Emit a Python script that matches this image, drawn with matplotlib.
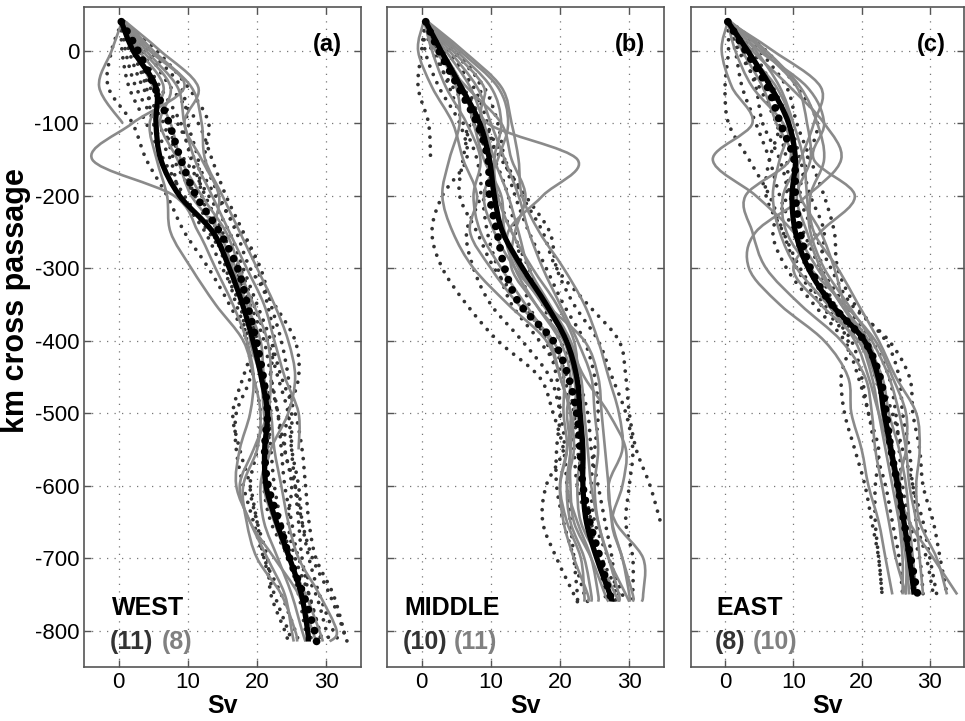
import matplotlib
matplotlib.use("Agg")
import matplotlib.pyplot as plt
from matplotlib.path import Path
from matplotlib.patches import PathPatch
import numpy as np

plt.rcParams['font.family'] = ['Liberation Sans', 'DejaVu Sans']
plt.rcParams['axes.unicode_minus'] = False

nan = np.nan

# ---------------- WEST (a) ----------------
Y_WEST = [40, 0, -50, -100, -150, -200, -250, -300, -350, -400, -450, -500,
          -550, -600, -650, -700, -750, -800, -815]
MEAN_SOLID_WEST = [0.4, 2.1, 5.4, 5.4, 6.1, 8.8, 13.6, 16.0, 17.9, 19.4, 20.6, 21.5,
                   21.1, 21.3, 22.8, 24.7, 26.4, 27.3, 27.4]
MEAN_DOT_WEST = [0.4, 2.8, 5.2, 7.3, 9.0, 11.2, 14.6, 17.2, 18.6, 19.9, 20.9, 21.5,
                 21.1, 21.6, 23.2, 24.7, 26.7, 28.3, 28.6]
GRAY_WEST = [
    [0.8, 4.5, 9.5, 2.0, -3.8, 8.0, 11.5, 14.0, 16.5, 18.5, 19.5, 19.0, 17.5, 17.0, 19.0, 21.5, 24.0, 25.0, 25.3],
    [0.5, -1.0, -2.8, 0.6, nan, nan, nan, nan, nan, nan, nan, nan, nan, nan, nan, nan, nan, nan, nan],
    [1.0, 5.0, 10.5, 12.0, 12.5, 15.0, 17.5, 20.0, 22.5, 24.5, 25.5, 24.5, 22.0, 21.0, 22.5, 24.5, 27.0, 29.0, 29.5],
    [1.0, 4.0, 8.5, 9.5, 11.0, 13.5, 16.0, 18.5, 21.0, 22.5, 24.0, 26.0, 26.0, nan, nan, nan, nan, nan, nan],
    [0.8, 3.0, 6.5, 4.5, 5.5, 7.0, 7.5, 10.5, 14.0, 18.0, 19.5, 20.5, 20.0, 18.0, 18.5, 20.0, 23.5, 25.5, 25.8],
    [1.0, 6.0, 11.5, 9.5, 12.0, 14.5, 14.0, 17.0, 19.5, 21.5, 22.0, 21.5, 19.5, 17.5, 19.0, 22.5, 26.0, 28.0, 28.5],
    [0.7, 3.5, 7.5, 6.0, 8.5, 10.5, 14.5, 16.5, 18.5, 20.5, 21.0, 22.0, 22.5, 23.5, 24.5, 26.0, 29.0, 31.5, 30.5],
    [0.9, 2.5, 5.0, 7.5, 9.0, 12.0, 15.5, 17.5, 19.0, 19.0, 20.5, 21.0, 21.5, 20.5, 21.0, 23.0, 25.0, 26.5, 27.0],
]
DOT_WEST = [
    [0.5, -1.0, -1.5, 2.0, 4.0, 7.0, 9.5, 13.0, 16.0, 18.5, 19.0, 17.0, 17.0, 18.0, 19.5, 21.0, 23.5, 25.5, 26.0],
    [0.6, 1.5, 3.5, 6.5, 8.0, 11.0, 14.5, 17.5, 19.5, 21.5, 23.0, 24.5, 25.0, 26.0, 26.5, 27.5, 29.0, 31.0, 32.0],
    [0.8, 5.5, 10.0, 13.0, 12.5, 14.5, 17.0, 19.0, 22.5, 25.5, 26.0, 24.5, 24.0, 25.5, 26.5, 28.0, 30.5, 32.5, 33.0],
    [0.5, 2.0, 4.0, 5.0, 7.5, 9.0, 12.5, 15.0, 17.5, 18.5, 19.5, 20.5, 20.0, 19.0, 20.0, 21.5, 22.0, 24.0, 24.5],
    [0.7, 4.0, 7.5, 11.5, 13.5, 15.5, 18.0, 20.5, 22.0, 23.5, 24.5, 25.0, 25.0, 25.5, 26.0, 26.5, 27.5, 29.0, 29.0],
    [0.4, 0.5, 1.5, 4.0, 6.5, 9.5, 13.0, 16.5, 19.0, 21.0, 22.0, 23.0, 23.5, 24.0, 25.0, 26.0, 28.5, 30.0, 30.5],
    [0.6, 3.0, 6.0, 9.0, 10.5, 12.5, 15.0, 17.0, 18.5, 20.0, 20.5, 21.5, 22.0, 22.5, 23.5, 25.0, 26.5, 27.5, 28.0],
    [0.5, 1.0, 2.5, 5.5, 9.5, 13.0, 16.0, 18.0, 20.0, 22.0, 23.5, 25.5, 26.5, 27.0, 27.5, 28.5, 31.0, 32.5, 32.5],
    [0.8, 3.5, 5.5, 7.0, 9.0, 11.0, 13.5, 16.0, 18.0, 19.5, 18.0, 16.5, 17.5, 19.0, 20.0, 21.0, 22.5, 24.5, 25.0],
    [0.6, 2.5, 4.5, 8.5, 11.0, 14.0, 17.5, 20.0, 21.5, 22.5, 22.0, 23.0, 24.0, 25.0, 24.5, 25.5, 27.5, 29.0, 29.5],
    [0.7, 4.5, 9.0, 10.0, 11.5, 12.0, 14.0, 15.5, 17.0, 19.0, 21.0, 22.0, 21.5, 21.0, 22.0, 24.5, 26.0, 27.0, 27.5],
]

# ---------------- MIDDLE (b) ----------------
Y_MIDDLE = [40, 0, -50, -100, -150, -200, -250, -300, -350, -400, -450, -500,
            -550, -600, -650, -700, -750, -760]
MEAN_SOLID_MIDDLE = [0.6, 2.8, 5.7, 8.4, 9.8, 10.5, 11.7, 14.6, 18.0, 20.9, 22.4, 22.9,
                     23.3, 23.3, 23.8, 25.3, 27.2, 27.5]
MEAN_DOT_MIDDLE = [0.6, 2.5, 5.3, 8.0, 9.6, 9.8, 10.9, 12.0, 14.2, 19.0, 21.2, 22.4,
                   22.9, 23.3, 24.3, 25.8, 27.2, 27.7]
GRAY_MIDDLE = [
    [0.3, -0.5, 1.5, 4.5, 6.0, 8.0, 7.0, 10.0, 14.0, 19.0, 20.5, 20.5, 21.0, 20.0, 20.5, 22.0, 24.0, 24.0],
    [0.8, 4.5, 9.0, 9.5, 22.5, 17.5, 12.5, 13.5, 16.5, 20.0, 21.5, 21.0, 21.5, 21.0, 22.5, 24.5, 25.5, 25.5],
    [0.7, 5.5, 11.0, 12.5, 11.0, 9.0, 10.5, 13.5, 18.0, 23.5, 25.5, 26.0, 26.5, 27.0, 27.5, 29.0, 30.5, 30.5],
    [0.5, 2.5, 5.0, 5.5, 4.0, 3.0, 4.5, 7.5, 12.5, 18.0, 20.0, 21.5, 22.0, 21.0, 21.5, 23.5, 24.5, 24.5],
    [0.9, 6.0, 11.5, 13.0, 14.0, 14.5, 17.0, 20.5, 23.5, 25.5, 27.0, 28.5, 29.0, 27.0, 28.0, 32.0, 32.0, 31.8],
    [0.6, 3.5, 7.0, 9.0, 10.5, 12.5, 14.0, 15.5, 18.5, 21.5, 23.0, 23.5, 24.0, 24.5, 25.5, 27.0, 29.5, 30.0],
    [0.4, 1.5, 3.5, 6.5, 8.5, 7.5, 8.5, 11.5, 15.0, 18.5, 20.0, 21.5, 21.0, 20.0, 21.0, 23.0, 23.5, 23.5],
    [0.7, 4.0, 8.0, 10.0, 12.0, 14.0, 15.5, 17.5, 20.0, 22.5, 24.5, 25.0, 25.5, 25.0, 25.5, 27.0, 28.5, 28.5],
    [0.5, 2.0, 6.5, 11.5, 13.0, 15.0, 13.5, 13.0, 16.5, 20.5, 22.0, 22.5, 23.0, 22.5, 23.0, 25.5, 28.0, 28.5],
    [0.8, 5.0, 10.0, 11.5, 10.5, 11.0, 13.0, 16.0, 19.5, 22.0, 22.5, 22.0, 21.5, 21.5, 22.0, 24.5, 26.5, 27.0],
    [0.6, 3.0, 6.0, 7.5, 9.0, 11.5, 12.0, 14.0, 17.5, 21.0, 23.5, 27.0, 29.5, 29.0, 27.5, 29.0, 30.0, 30.0],
]
DOT_MIDDLE = [
    [0.5, 0.0, -0.5, 1.0, 1.3, nan, nan, nan, nan, nan, nan, nan, nan, nan, nan, nan, nan, nan],
    [0.5, 0.5, 2.5, 5.5, 6.5, 3.0, 1.5, 3.0, 6.5, 11.0, 17.0, 19.0, 20.5, 21.0, 21.5, 22.0, 22.5, 22.5],
    [0.6, 3.0, 6.0, 9.0, 12.0, 14.5, 17.5, 19.5, 24.0, 28.5, 29.5, 30.0, 31.0, 33.0, 34.5, nan, nan, nan],
    [0.7, 4.5, 9.0, 11.0, 12.0, 13.5, 15.5, 18.0, 20.5, 23.5, 25.0, 25.5, 25.0, 24.5, 25.0, 27.0, 29.0, 29.5],
    [0.5, 2.0, 4.0, 6.0, 8.0, 8.5, 6.5, 7.5, 10.0, 14.5, 18.5, 20.0, 20.5, 18.0, 17.5, 19.5, 22.0, 22.5],
    [0.6, 3.5, 7.5, 9.5, 10.5, 9.0, 9.5, 11.0, 13.0, 17.0, 20.5, 21.5, 22.0, 22.5, 24.0, 26.0, 28.5, 28.5],
    [0.4, 1.5, 4.5, 8.5, 11.5, 15.0, 18.5, 19.5, 22.0, 25.5, 27.5, 29.5, 30.5, 30.0, 29.5, 30.5, 30.5, 30.5],
    [0.7, 5.0, 8.5, 7.0, 6.0, 5.5, 8.0, 10.5, 14.5, 18.5, 21.0, 22.0, 22.5, 23.5, 24.5, 25.5, 26.5, 26.5],
    [0.5, 2.5, 5.5, 8.0, 9.5, 11.0, 13.0, 15.5, 17.5, 20.0, 22.5, 24.0, 24.5, 25.5, 26.5, 27.5, 28.0, 28.0],
    [0.6, 4.0, 7.0, 7.5, 10.5, 12.5, 13.5, 14.5, 15.5, 18.0, 19.5, 20.0, 19.5, 19.5, 20.5, 22.0, 23.5, 24.0],
]

# ---------------- EAST (c) ----------------
Y_EAST = [40, 0, -50, -100, -150, -200, -250, -300, -350, -400, -450, -500,
          -550, -600, -650, -700, -750]
MEAN_SOLID_EAST = [0.4, 3.3, 6.7, 9.3, 10.3, 9.8, 10.3, 12.2, 15.6, 20.4, 22.4, 23.3,
                   24.3, 25.3, 26.2, 27.0, 27.7]
MEAN_DOT_EAST = [0.4, 3.0, 6.2, 8.1, 10.1, 10.3, 11.0, 12.5, 15.6, 20.4, 22.7, 23.6,
                 24.3, 25.3, 26.2, 27.2, 28.2]
GRAY_EAST = [
    [0.4, -0.5, 1.0, 4.0, -1.8, 4.5, 10.0, 13.5, 17.0, 21.0, 22.5, 23.0, 24.0, 25.0, 26.0, 27.0, 27.5],
    [0.6, 5.0, 12.0, 14.5, 13.0, 19.0, 14.0, 10.0, 14.0, 19.5, 21.5, 22.5, 23.5, 24.5, 25.5, 26.5, 26.5],
    [0.5, 7.0, 14.0, 13.0, 11.0, 8.5, 9.0, 12.5, 17.5, 22.0, 24.5, 26.5, 26.5, 25.5, 27.0, 30.5, 34.0],
    [0.7, 4.0, 9.5, 14.5, 17.0, 12.0, 4.5, 3.5, 8.0, 14.5, 18.0, 18.5, 20.0, 21.0, 22.5, 23.5, 24.5],
    [0.5, 2.5, 5.5, 7.5, 9.5, 3.0, 4.0, 6.0, 11.0, 17.0, 20.5, 21.5, 22.0, 23.0, 24.0, 25.0, 26.5],
    [0.8, 6.0, 11.0, 13.5, 14.5, 12.5, 13.0, 16.5, 19.5, 22.5, 25.0, 28.0, 28.5, 28.0, 28.5, 31.0, 32.5],
    [0.4, 1.5, 4.0, 8.5, 10.5, 11.0, 14.0, 16.0, 17.5, 20.0, 22.0, 23.5, 24.5, 25.5, 26.0, 26.5, 27.0],
    [0.6, 4.5, 8.0, 10.0, 11.5, 12.0, 12.5, 14.5, 18.0, 21.5, 24.0, 25.5, 26.5, 27.0, 28.0, 28.5, 29.0],
    [0.5, 3.0, 7.5, 9.5, 8.0, 7.0, 8.0, 10.5, 15.0, 19.0, 21.0, 22.5, 24.0, 25.0, 25.5, 26.0, 26.0],
    [0.7, 5.5, 10.5, 12.0, 12.5, 10.5, 12.0, 14.0, 17.0, 20.5, 23.0, 24.0, 25.5, 26.5, 27.0, 27.5, 28.0],
]
DOT_EAST = [
    [0.4, 0.5, 0.0, 0.5, 3.5, 6.5, 8.5, 10.5, 14.0, 18.0, 17.0, 17.5, 19.0, 20.5, 21.5, 22.5, 23.0],
    [0.5, 3.5, 6.5, 8.0, 6.5, 6.0, 8.5, 11.0, 14.5, 18.5, 20.0, 21.0, 22.5, 22.0, 22.0, 22.5, 23.0],
    [0.6, 5.0, 9.0, 10.5, 12.5, 14.5, 16.0, 16.5, 19.0, 23.5, 25.5, 26.0, 27.0, 27.5, 29.0, 30.0, 31.0],
    [0.5, 2.0, 5.0, 7.5, 9.0, 9.5, 11.5, 14.0, 17.5, 21.5, 24.0, 25.0, 25.5, 26.0, 27.0, 28.5, 29.0],
    [0.7, 6.0, 10.5, 13.5, 12.0, 11.0, 13.0, 15.5, 18.5, 24.0, 27.0, 27.5, 28.5, 29.0, 30.5, 31.5, 32.5],
    [0.4, 1.5, 2.5, 4.5, 6.5, 8.0, 10.0, 12.0, 16.0, 20.5, 22.0, 23.5, 24.5, 25.5, 26.0, 27.0, 27.5],
    [0.6, 4.0, 7.0, 9.5, 11.0, 12.5, 14.5, 14.0, 16.0, 19.5, 22.5, 24.5, 26.0, 27.5, 28.0, 29.5, 30.5],
    [0.5, 2.5, 4.5, 5.5, 8.0, 9.0, 7.0, 9.0, 13.0, 17.5, 19.5, 21.0, 22.0, 23.5, 24.5, 25.5, 26.0],
]

PANEL_TAGS = ['(a)', '(b)', '(c)']
REGION_NAMES = ['WEST', 'MIDDLE', 'EAST']
DOT_COUNTS = ['(11)', '(10)', '(8)']
GRAY_COUNTS = ['(8)', '(11)', '(10)']
X_TICKS = [0, 10, 20, 30]
Y_TICKS = [-800, -700, -600, -500, -400, -300, -200, -100, 0]

panels = [
    (Y_WEST, MEAN_SOLID_WEST, MEAN_DOT_WEST, GRAY_WEST, DOT_WEST),
    (Y_MIDDLE, MEAN_SOLID_MIDDLE, MEAN_DOT_MIDDLE, GRAY_MIDDLE, DOT_MIDDLE),
    (Y_EAST, MEAN_SOLID_EAST, MEAN_DOT_EAST, GRAY_EAST, DOT_EAST),
]


def smooth_curve(ax, xs, ys, **kw):
    """Draw a smooth (Catmull-Rom as cubic Bezier) curve through the data
    points, in data coordinates; NaN values split the curve."""
    xs = np.asarray(xs, float)
    ys = np.asarray(ys, float)
    ok = ~np.isnan(xs)
    idx = np.where(ok)[0]
    runs = np.split(idx, np.where(np.diff(idx) > 1)[0] + 1)
    verts, codes = [], []
    for run in runs:
        if len(run) < 2:
            continue
        p = np.column_stack([xs[run], ys[run]])
        n = len(p)
        verts.append(p[0]); codes.append(Path.MOVETO)
        for k in range(n - 1):
            p0 = p[k - 1] if k > 0 else p[k]
            p1, p2 = p[k], p[k + 1]
            p3 = p[k + 2] if k + 2 < n else p[k + 1]
            c1 = p1 + (p2 - p0) / 6.0
            c2 = p2 - (p3 - p1) / 6.0
            verts.extend([c1, c2, p2])
            codes.extend([Path.CURVE4] * 3)
    patch = PathPatch(Path(np.array(verts), codes), fill=False,
                      transform=ax.transData, **kw)
    ax.add_patch(patch)
    return patch


# layout (figure fractions)
lefts = [0.087, 0.401, 0.716]
widths = [0.287, 0.287, 0.283]
bottom, height = 0.075, 0.915
name_x = [-0.9, -2.5, -1.3]
count1_x = [-1.3, -2.75, -1.55]
count2_x = [6.2, 4.7, 4.0]

fig = plt.figure(figsize=(9.65, 7.21), dpi=100)

for i, (ys, msolid, mdot, grays, dots) in enumerate(panels):
    ax = fig.add_axes([lefts[i], bottom, widths[i], height])
    ax.set_xlim(-5, 35)
    ax.set_ylim(-850, 60)
    ax.set_xticks(X_TICKS)
    ax.set_yticks(Y_TICKS)
    ax.grid(True, color='#777777', linestyle=(0, (1, 5)), linewidth=0.9)
    ax.set_axisbelow(True)
    ax.tick_params(direction='in', top=True, right=True, length=5,
                   width=1.0, color='#555555', labelsize=16)
    for sp in ax.spines.values():
        sp.set_color('#555555')
        sp.set_linewidth(1.2)
    if i > 0:
        ax.set_yticklabels([])
    else:
        ax.set_ylabel('km cross passage', fontsize=22, fontweight='bold')
        ax.yaxis.set_label_coords(-0.19, 0.555)
    ax.set_xlabel('Sv', fontsize=18, fontweight='bold', labelpad=1)

    for xs in dots:
        p = smooth_curve(ax, xs, ys, edgecolor='#333333', lw=2.7,
                         linestyle=(0, (0.01, 2.4)), zorder=2)
        p.set_capstyle('round')
    for xs in grays:
        p = smooth_curve(ax, xs, ys, edgecolor='#8a8a8a', lw=1.9, zorder=3)
        p.set_joinstyle('round')
    smooth_curve(ax, msolid, ys, edgecolor='black', lw=3.8, zorder=4)
    p = smooth_curve(ax, mdot, ys, edgecolor='black', lw=5.6,
                     linestyle=(0, (0.01, 1.4)), zorder=5)
    p.set_capstyle('round')

    ax.text(32.3, 8, PANEL_TAGS[i], ha='right', va='center', fontsize=17,
            fontweight='bold')
    ax.text(name_x[i], -769, REGION_NAMES[i], ha='left', va='center',
            fontsize=18, fontweight='bold', color='black')
    ax.text(count1_x[i], -816, DOT_COUNTS[i], ha='left', va='center',
            fontsize=18, fontweight='bold', color='#333333')
    ax.text(count2_x[i], -816, GRAY_COUNTS[i], ha='left', va='center',
            fontsize=18, fontweight='bold', color='#808080')

fig.savefig('out.png', dpi=100)
